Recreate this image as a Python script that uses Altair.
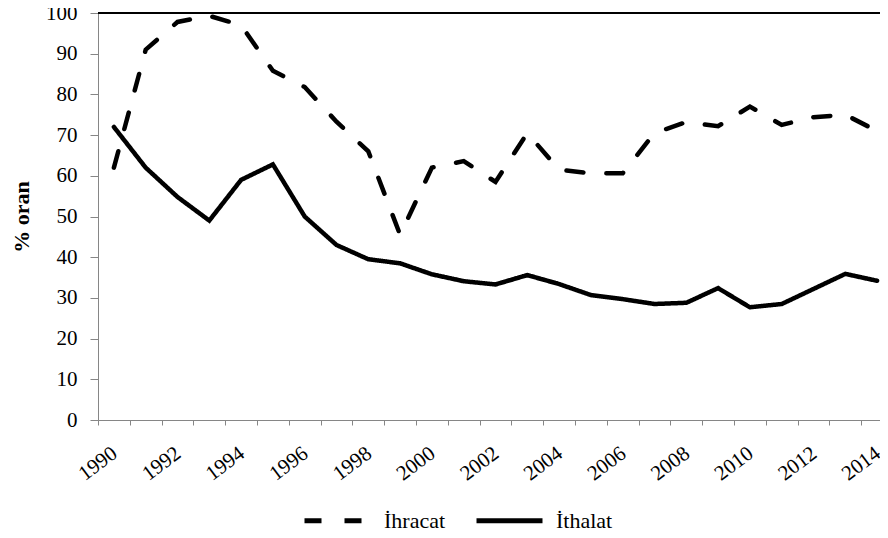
import altair as alt
import pandas as pd

years = list(range(1990, 2015))
ihracat = [62, 91, 97.8, 99.3, 97, 85.8, 81.8, 73.3, 66, 45.5, 62, 63.6, 58.5,
           70.5, 61.5, 60.6, 60.6, 70.5, 73.2, 72.2, 77, 72.5, 74.4, 75, 71]
ithalat = [72, 62, 54.8, 49, 59, 62.8, 50, 43, 39.5, 38.5, 35.8, 34.1, 33.3,
           35.6, 33.4, 30.7, 29.7, 28.5, 28.8, 32.4, 27.7, 28.5, 32.2, 35.9, 34.2]
series = ["İhracat", "İthalat"]
y_ticks = list(range(0, 101, 10))

df = pd.DataFrame({
    "Yıl": years * 2,
    "Oran": ihracat + ithalat,
    "Seri": [series[0]] * len(years) + [series[1]] * len(years),
})

W, H = 782, 407
BAND = 31.8
x_dom = [1989.5, 1989.5 + W / BAND]
FONT = "Liberation Serif"
GRAY = "#868686"
SYM = 66

x_axis = alt.Axis(
    values=years, tickOffset=-BAND / 2, labelOffset=BAND / 2 - 6,
    labelExpr="datum.value % 2 == 0 ? datum.value : ''",
    labelAngle=-37, labelAlign="right", labelBaseline="top",
    labelFontSize=21, labelFont=FONT, labelColor="black", labelPadding=17,
    tickSize=5, tickColor=GRAY, domainColor=GRAY, grid=False, title=None,
    labelOverlap=False, labelFlush=False, labelBound=False, format="d",
)
y_axis = alt.Axis(
    values=y_ticks, tickSize=8, tickColor=GRAY, domainColor=GRAY, grid=False,
    labelFontSize=21, labelFont=FONT, labelColor="black", labelPadding=13,
    title="% oran", titleFont=FONT, titleFontSize=22, titleFontWeight="bold",
    titleColor="black", titlePadding=12,
)

lines = alt.Chart(df).mark_line(color="black", strokeWidth=4.5, strokeCap="round").encode(
    x=alt.X("Yıl:Q", scale=alt.Scale(domain=x_dom, nice=False, zero=False), axis=x_axis),
    y=alt.Y("Oran:Q", scale=alt.Scale(domain=[0, 100], nice=False), axis=y_axis),
    strokeDash=alt.StrokeDash(
        "Seri:N",
        scale=alt.Scale(domain=series, range=[[17, 23], [1, 0]]),
        legend=alt.Legend(
            title=None, orient="none", legendX=204, legendY=505 - SYM // 2,
            direction="horizontal",
            symbolType="stroke", symbolSize=SYM * SYM, symbolStrokeWidth=5,
            symbolStrokeColor="black", labelFont=FONT, labelFontSize=22,
            labelColor="black", labelOffset=11, columnPadding=20, padding=0,
        ),
    ),
)

top_border = alt.Chart(df).mark_rule(color="black", strokeWidth=1.3).encode(
    x=alt.value(0), x2=alt.value(W), y=alt.value(0)
)

chart = alt.layer(lines, top_border).properties(
    width=W, height=H,
    autosize=alt.AutoSizeParams(type="none"),
    padding={"left": 90, "top": 5, "right": 0, "bottom": 109},
).configure_view(stroke=None).configure(font=FONT)

chart.save("out.html", embed_options={"renderer": "svg", "actions": False})
